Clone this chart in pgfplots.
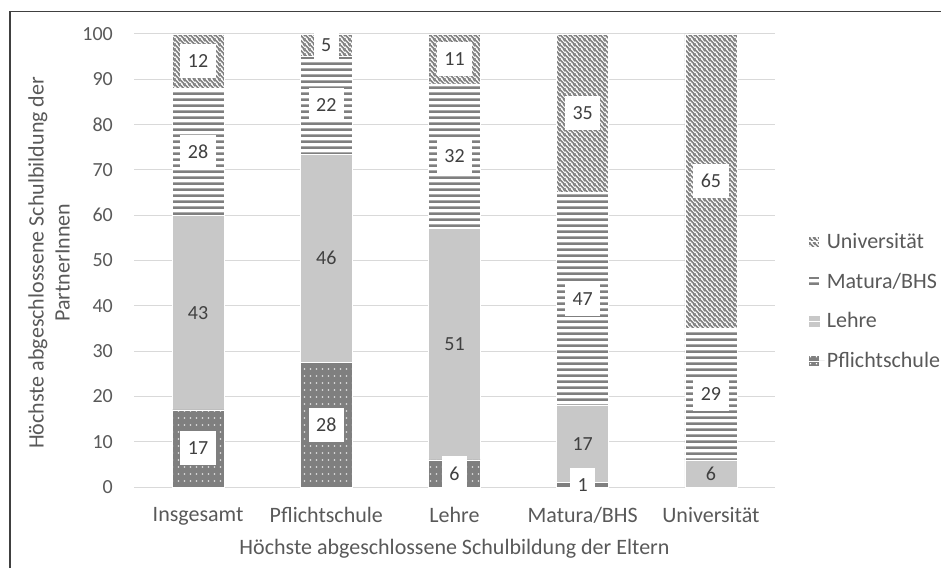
\documentclass[border=0pt]{standalone}
\usepackage{pgfplots}
\pgfplotsset{compat=1.18}
\usepackage{pgfplotstable}
\usetikzlibrary{patterns}
\usepackage{fontspec}
\setmainfont{Carlito}
\definecolor{dk}{RGB}{127,127,127}
\definecolor{lt}{RGB}{200,200,200}
\definecolor{txt}{RGB}{89,89,89}
\definecolor{lbl}{RGB}{64,64,64}
\definecolor{gridc}{RGB}{217,217,217}
\definecolor{frame}{RGB}{64,64,64}

\pgfdeclarepatternformonly{mydots}{\pgfqpoint{0pt}{0pt}}{\pgfqpoint{5.5pt}{6.5pt}}{\pgfqpoint{5.5pt}{6.5pt}}{%
  \pgfpathrectangle{\pgfqpoint{2pt}{2.5pt}}{\pgfqpoint{1.4pt}{1.4pt}}\pgfusepath{fill}}
\pgfdeclarepatternformonly{myhlines}{\pgfqpoint{0pt}{0pt}}{\pgfqpoint{6.3pt}{6.3pt}}{\pgfqpoint{6.3pt}{6.3pt}}{%
  \pgfpathrectangle{\pgfqpoint{-0.5pt}{0pt}}{\pgfqpoint{7.3pt}{2.9pt}}\pgfusepath{fill}}
\pgfdeclarepatternformonly{mydiag}{\pgfqpoint{0pt}{0pt}}{\pgfqpoint{5pt}{5pt}}{\pgfqpoint{5pt}{5pt}}{%
  \pgfsetlinewidth{1.9pt}%
  \pgfpathmoveto{\pgfqpoint{-6pt}{6pt}}\pgfpathlineto{\pgfqpoint{1pt}{-1pt}}%
  \pgfpathmoveto{\pgfqpoint{-1pt}{6pt}}\pgfpathlineto{\pgfqpoint{6pt}{-1pt}}%
  \pgfpathmoveto{\pgfqpoint{4pt}{6pt}}\pgfpathlineto{\pgfqpoint{11pt}{-1pt}}%
  \pgfusepath{stroke}}

\pgfplotstableread{
x P L M U
0 17 43 28 12
1 27.5 46 21.5 5
2 6 51 32 11
3 1 17 47 35
4 0 6 29 65
}\data

\newcommand{\ff}{\fontsize{22}{26}\selectfont}
\newcommand{\fn}{\fontsize{20}{24}\selectfont}

\pgfplotsset{mybase/.style={
  scale only axis, width=641pt, height=453pt,
  at={(134pt,81pt)}, anchor=south west,
  xmin=-0.5, xmax=4.5, ymin=0, ymax=100,
  /pgf/number format/assume math mode=true,
}}

\begin{document}
\begin{tikzpicture}
\path[use as bounding box] (0,0) rectangle (941pt,568pt);
\draw[line width=1.3pt, color=frame] (10pt,0pt) -- (10pt,556.5pt) -- (941pt,556.5pt);
\begin{axis}[mybase,
  ybar stacked, bar width=52pt,
  axis line style={draw=none},
  major tick length=0pt,
  ymajorgrids, grid style={gridc, line width=1pt},
  ytick={0,10,...,100},
  xtick={0,1,2,3,4},
  xticklabels={Insgesamt,Pflichtschule,Lehre,Matura/BHS,Universität},
  yticklabel style={font=\fn, text=txt, anchor=east, inner sep=0pt, xshift=-21pt},
  xticklabel style={font=\ff, text=txt, anchor=north, inner sep=0pt, yshift=-20pt},
  xlabel={Höchste abgeschlossene Schulbildung der Eltern},
  xlabel style={at={(axis description cs:0.5,-0.148)}, anchor=base, font=\ff, text=txt, inner sep=0pt},
  ylabel={Höchste abgeschlossene Schulbildung der\\PartnerInnen},
  ylabel style={at={(axis description cs:-0.1326,0.495)}, anchor=center, rotate=0, align=center, font=\ff, text=txt},
  legend style={draw=none, fill=none, at={(1.0515,0.41)}, anchor=west, font=\ff, text=txt, row sep=19pt, inner sep=0pt},
  legend cell align=left,
  reverse legend,
  legend image code/.code={\path[#1, draw=none] (0pt,-5.5pt) rectangle (11pt,5.5pt); \path (0pt,0pt) -- (16pt,0pt);},
]
\addplot[fill=dk, draw=white, line width=0.6pt, postaction={pattern=mydots, pattern color=white}] table[x=x,y=P]\data;
\addlegendentry{Pflichtschule}
\addplot[fill=lt, draw=white, line width=0.6pt] table[x=x,y=L]\data;
\addlegendentry{Lehre}
\addplot[fill=white, draw=white, line width=0.6pt, postaction={pattern=myhlines, pattern color=dk}] table[x=x,y=M]\data;
\addlegendentry{Matura/BHS}
\addplot[fill=white, draw=white, line width=0.6pt, postaction={pattern=mydiag, pattern color=dk}] table[x=x,y=U]\data;
\addlegendentry{Universität}
\end{axis}
\begin{axis}[mybase, hide axis,
  nodes near coords={\pgfmathprintnumber[fixed,precision=0]{\pgfplotspointmeta}},
  point meta=explicit,
  every node near coord/.append style={anchor=center, font=\fn, text=lbl, fill=white, inner xsep=7.5pt, inner ysep=0pt, minimum height=34pt},
]
\addplot[draw=none, skip coords between index={4}{5}] table[x=x, y expr=\thisrow{P}/2, meta=P]\data;
\addplot[draw=none, every node near coord/.append style={fill=none}] table[x=x, y expr=\thisrow{P}+\thisrow{L}/2, meta=L]\data;
\addplot[draw=none] table[x=x, y expr=\thisrow{P}+\thisrow{L}+\thisrow{M}/2, meta=M]\data;
\addplot[draw=none] table[x=x, y expr=\thisrow{P}+\thisrow{L}+\thisrow{M}+\thisrow{U}/2, meta=U]\data;
\end{axis}
\end{tikzpicture}
\end{document}
